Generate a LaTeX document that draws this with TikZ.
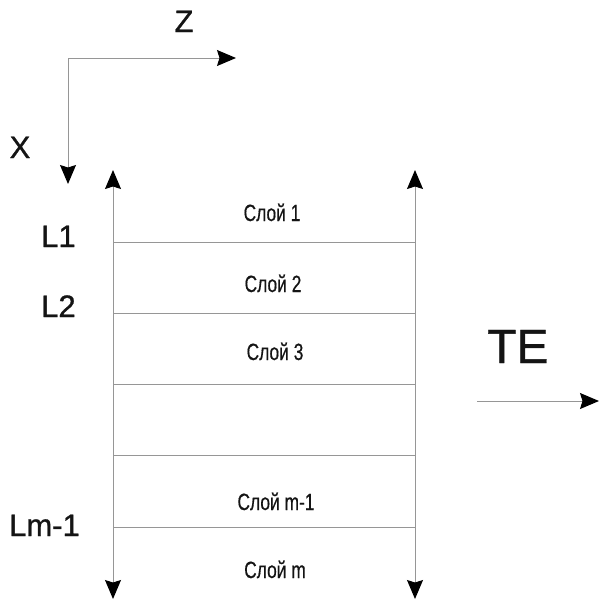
\documentclass[tikz,border=0pt]{standalone}
\usepackage{fontspec}
\setmainfont{Liberation Sans}[FakeBold=0.8]
\newfontfamily\labelfont{Liberation Sans}[FakeBold=0.9]
\newfontfamily\narrowfont{Liberation Sans}[FakeStretch=0.74,FakeBold=0.5]
\usetikzlibrary{arrows.meta}
\definecolor{lineGray}{RGB}{150,150,150}
\definecolor{inkBlack}{RGB}{20,20,20}
\tikzset{
  blacktip/.tip={Stealth[black,length=19pt,width=16pt,inset=2.5pt]},
  axisline/.style={draw=lineGray,line width=1pt},
  fwd/.style={axisline,-{blacktip}},
  twoway/.style={axisline,{blacktip}-{blacktip}},
  layerline/.style={axisline},
  biglabel/.style={inner sep=0pt,text=inkBlack,font=\labelfont\fontsize{31}{31}\selectfont},
  layerlabel/.style={inner sep=0pt,anchor=base,text=inkBlack,font=\narrowfont\fontsize{23.5}{23.5}\selectfont},
}
\begin{document}
\begin{tikzpicture}[x=1pt,y=-1pt]
  \useasboundingbox (0,0) rectangle (599,600);

  % coordinate axes
  \coordinate (O) at (68,58);
  \coordinate (Zend) at (236,58);
  \coordinate (Xend) at (68,184);
  \draw[fwd] (O) -- (Zend);
  \draw[fwd] (O) -- (Xend);
  \node[biglabel,anchor=base] (zlab) at (184,32) {Z};
  \node[biglabel,anchor=base] (xlab) at (20,158) {X};

  % side boundaries of the stack
  \coordinate (LT) at (113,170);
  \coordinate (LB) at (113,599);
  \coordinate (RT) at (415,170);
  \coordinate (RB) at (415,599);
  \draw[twoway] (LB) -- (LT);
  \draw[twoway] (RB) -- (RT);

  % interfaces between layers
  \foreach \n/\y in {1/242,2/313,3/384,4/455,5/527}{
    \coordinate (a\n) at (113,\y);
    \coordinate (b\n) at (415,\y);
    \draw[layerline] (a\n) -- (b\n);
  }

  % layer names
  \node[layerlabel] (s1) at (272,221) {Слой 1};
  \node[layerlabel] (s2) at (273,292) {Слой 2};
  \node[layerlabel] (s3) at (275,360) {Слой 3};
  \node[layerlabel] (sm1) at (276,510) {Слой m-1};
  \node[layerlabel] (sm) at (275,578) {Слой m};

  % interface labels
  \node[biglabel,anchor=base west] (l1) at (41,247) {L1};
  \node[biglabel,anchor=base west] (l2) at (41,317) {L2};
  \node[biglabel,anchor=base west] (lm) at (9,536) {Lm-1};

  % wave mode and propagation direction
  \node[biglabel,anchor=base west,font=\labelfont\fontsize{48}{48}\selectfont] (te) at (487,363) {TE};
  \coordinate (w0) at (477,401);
  \coordinate (w1) at (599,401);
  \draw[fwd] (w0) -- (w1);
\end{tikzpicture}
\end{document}
